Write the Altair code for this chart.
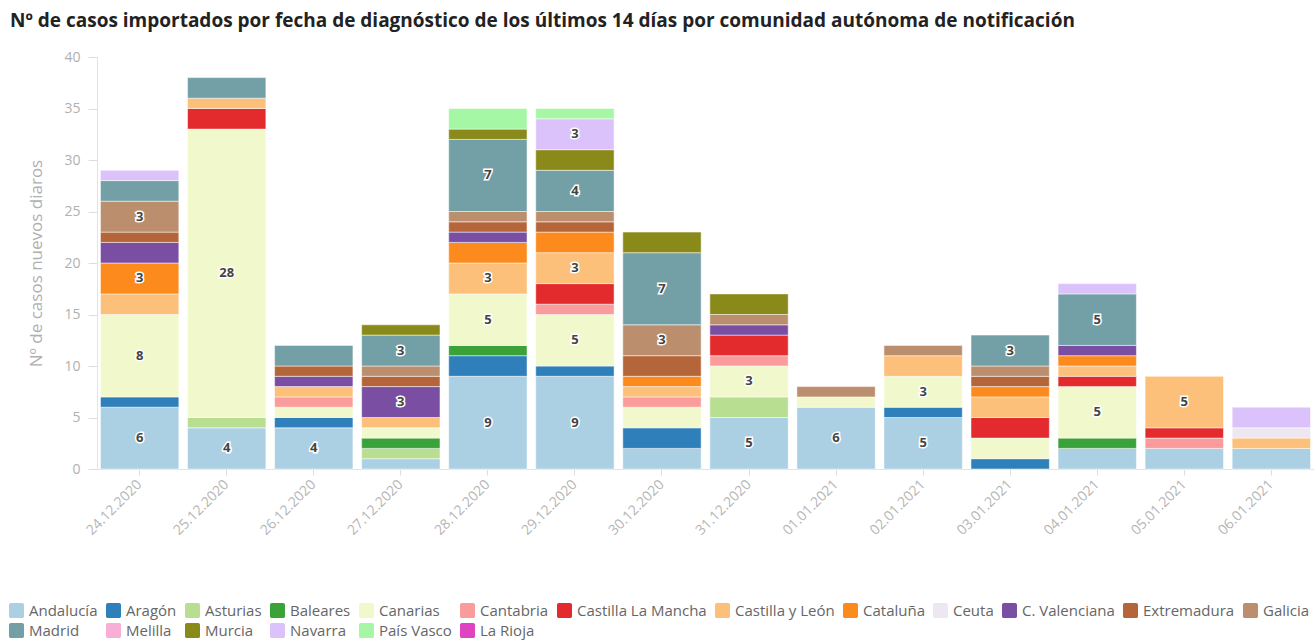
import altair as alt
import pandas as pd

dates = ["24.12.2020", "25.12.2020", "26.12.2020", "27.12.2020", "28.12.2020",
         "29.12.2020", "30.12.2020", "31.12.2020", "01.01.2021", "02.01.2021",
         "03.01.2021", "04.01.2021", "05.01.2021", "06.01.2021"]

regions = ["Andalucía", "Aragón", "Asturias", "Baleares", "Canarias", "Cantabria",
           "Castilla La Mancha", "Castilla y León", "Cataluña", "Ceuta",
           "C. Valenciana", "Extremadura", "Galicia", "Madrid", "Melilla",
           "Murcia", "Navarra", "País Vasco", "La Rioja"]

colors = ["#abd0e4", "#2f7fba", "#b8df91", "#3ba23a", "#f1f8cc", "#f99c9b",
          "#e32b2e", "#fcc07a", "#fd8a1c", "#ede7f1", "#7a4ea3", "#b5653a",
          "#bb8f6d", "#73a0a7", "#f9aed6", "#8a8a1a", "#dcc2fb", "#a5f6a5",
          "#e043c2"]

andalucia = [6, 4, 4, 1, 9, 9, 2, 5, 6, 5, 0, 2, 2, 2]
aragon = [1, 0, 1, 0, 2, 1, 2, 0, 0, 1, 1, 0, 0, 0]
asturias = [0, 1, 0, 1, 0, 0, 0, 2, 0, 0, 0, 0, 0, 0]
baleares = [0, 0, 0, 1, 1, 0, 0, 0, 0, 0, 0, 1, 0, 0]
canarias = [8, 28, 1, 1, 5, 5, 2, 3, 1, 3, 2, 5, 0, 0]
cantabria = [0, 0, 1, 0, 0, 1, 1, 1, 0, 0, 0, 0, 1, 0]
clm = [0, 2, 0, 0, 0, 2, 0, 2, 0, 0, 2, 1, 1, 0]
cyl = [2, 1, 1, 1, 3, 3, 1, 0, 0, 2, 2, 1, 5, 1]
cataluna = [3, 0, 0, 0, 2, 2, 1, 0, 0, 0, 1, 1, 0, 0]
ceuta = [0, 0, 0, 0, 0, 0, 0, 0, 0, 0, 0, 0, 0, 1]
cval = [2, 0, 1, 3, 1, 0, 0, 1, 0, 0, 0, 1, 0, 0]
extremadura = [1, 0, 1, 1, 1, 1, 2, 0, 0, 0, 1, 0, 0, 0]
galicia = [3, 0, 0, 1, 1, 1, 3, 1, 1, 1, 1, 0, 0, 0]
madrid = [2, 2, 2, 3, 7, 4, 7, 0, 0, 0, 3, 5, 0, 0]
melilla = [0] * 14
murcia = [0, 0, 0, 1, 1, 2, 2, 2, 0, 0, 0, 0, 0, 0]
navarra = [1, 0, 0, 0, 0, 3, 0, 0, 0, 0, 0, 1, 0, 2]
pais_vasco = [0, 0, 0, 0, 2, 1, 0, 0, 0, 0, 0, 0, 0, 0]
la_rioja = [0] * 14

series = [andalucia, aragon, asturias, baleares, canarias, cantabria, clm, cyl,
          cataluna, ceuta, cval, extremadura, galicia, madrid, melilla, murcia,
          navarra, pais_vasco, la_rioja]

rows = []
for i, (reg, vals) in enumerate(zip(regions, series)):
    for d, v in zip(dates, vals):
        if v > 0:
            rows.append({"fecha": d, "ccaa": reg, "casos": v, "orden": i})
df = pd.DataFrame(rows)

FONT = "Open Sans"
ROUNDED = ("M-0.75,-1 H0.75 A0.25,0.25 0 0 1 1,-0.75 V0.75 A0.25,0.25 0 0 1 0.75,1 "
           "H-0.75 A0.25,0.25 0 0 1 -1,0.75 V-0.75 A0.25,0.25 0 0 1 -0.75,-1 Z")

x_enc = alt.X("fecha:N", sort=dates, title=None,
              scale=alt.Scale(paddingInner=0.1, paddingOuter=0.04),
              axis=alt.Axis(labelAngle=-45, labelAlign="right", labelBaseline="middle",
                            labelFontSize=14, labelColor="#b5b5b5", labelPadding=7,
                            tickColor="#dddddd", tickSize=6, domainColor="#e3e3e3",
                            labelFont=FONT))

bars = alt.Chart(df).mark_bar(stroke="white", strokeWidth=0.5).encode(
    x=x_enc,
    y=alt.Y("casos:Q", stack="zero",
            scale=alt.Scale(domain=[0, 40]),
            title="Nº de casos nuevos diaros",
            axis=alt.Axis(values=list(range(0, 41, 5)), grid=False,
                          labelFontSize=14, labelColor="#b0b0b0", labelFont=FONT,
                          tickColor="#dddddd", tickSize=9, labelPadding=8,
                          domainColor="#e3e3e3",
                          titleFontSize=17, titleColor="#b0b0b0", titleFont=FONT,
                          titleFontWeight="normal", titlePadding=18)),
    color=alt.Color("ccaa:N", title=None,
                    scale=alt.Scale(domain=regions, range=colors),
                    legend=alt.Legend(orient="none", legendX=-88, legendY=546,
                                      direction="horizontal", columns=13,
                                      gridAlign="none", symbolType=ROUNDED,
                                      symbolSize=225, symbolStrokeWidth=0,
                                      symbolOpacity=1,
                                      labelFontSize=15, labelColor="#666666",
                                      labelFont=FONT, labelOffset=5,
                                      columnPadding=8, rowPadding=4)),
    order=alt.Order("orden:Q", sort="ascending"),
)

base_text = alt.Chart(df).transform_stack(
    stack="casos", as_=["y0", "y1"], groupby=["fecha"],
    sort=[alt.SortField("orden", order="ascending")]
).transform_calculate(
    mid="(datum.y0 + datum.y1) / 2"
).transform_filter("datum.casos >= 3")

halo = base_text.mark_text(fontSize=13, fontWeight="bold", font=FONT,
                           stroke="white", strokeWidth=3, color="white",
                           baseline="middle").encode(
    x=alt.X("fecha:N", sort=dates), y=alt.Y("mid:Q"), text="casos:Q")
labels = base_text.mark_text(fontSize=13, fontWeight="bold", font=FONT,
                             color="#444444", baseline="middle").encode(
    x=alt.X("fecha:N", sort=dates), y=alt.Y("mid:Q"), text="casos:Q")

chart = alt.layer(bars, halo, labels).properties(
    width=1217, height=412,
    title=alt.TitleParams(
        "Nº de casos importados por fecha de diagnóstico de los últimos 14 días por comunidad autónoma de notificación",
        anchor="start", frame="group", dx=-87, offset=19,
        fontSize=19, font=FONT, fontWeight="bold", color="#222222"),
    autosize=alt.AutoSizeParams(type="none"),
    padding={"left": 97, "top": 57, "right": 0, "bottom": 172},
).configure_view(stroke=None).configure_axis(grid=False)

chart.save("out.html", embed_options={"renderer": "svg", "actions": False})
